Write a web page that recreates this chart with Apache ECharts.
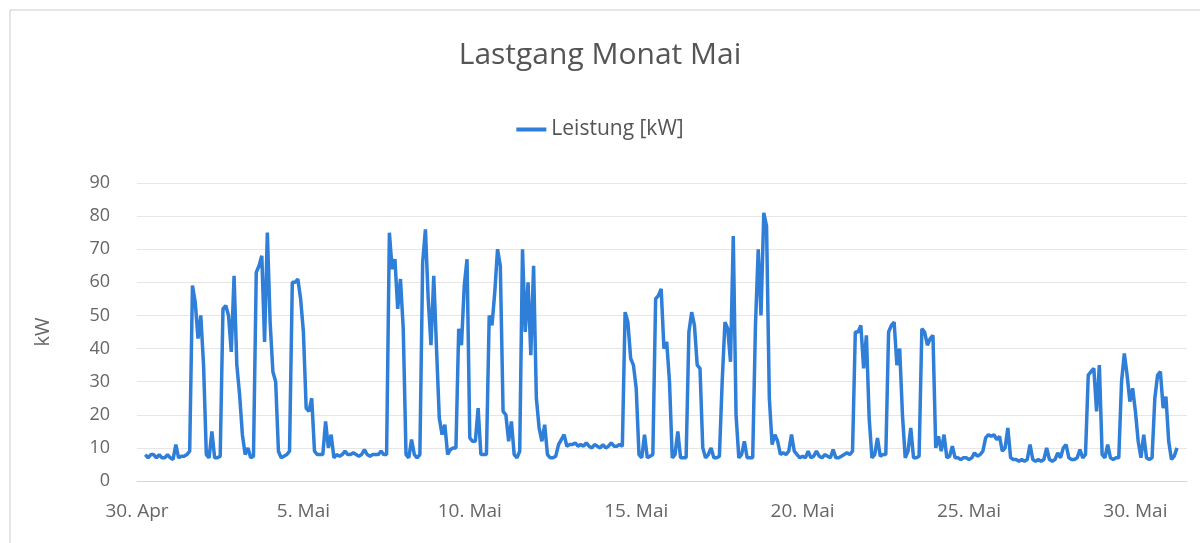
<!DOCTYPE html>
<html>
<head>
    <meta charset="utf-8" />
    <title>Lastgang Monat Mai</title>
    <style>
        html, body { margin: 0; padding: 0; background: #fff; }
        #linechart { width: 1200px; height: 543px; }
    </style>
</head>
<body>
    <div id="linechart"></div>
    <script src="https://cdn.jsdelivr.net/npm/echarts@6/dist/echarts.min.js"></script>
    <script>
        // Messwerte alle 2 Stunden, Beginn 30. Apr 06:00 (x = Tage seit 30. Apr 00:00)
        var startDay = 0.25;
        var stepDays = 2 / 24;
        var leistung = [
            8, 7, 8, 8, 7, 8, 7, 7, 8, 7, 6.5, 11,
            7, 7.5, 7.5, 8, 9, 59, 54, 43, 50, 35, 8, 7,
            15, 7, 7, 7.5, 52, 53, 50, 39, 62, 35, 26, 14,
            8, 10, 7, 7.5, 63, 65, 68, 42, 75, 48, 33, 30,
            9, 7, 7.5, 8, 9, 60, 60, 61, 55, 45, 22, 21,
            25, 9, 8, 8, 8, 18, 10, 14, 7, 8, 7.5, 8,
            9, 8, 8, 8.5, 8, 7.5, 8, 9.5, 8, 7.5, 8, 8,
            8, 9, 8, 8, 75, 64, 67, 52, 61, 46, 8, 7,
            12.5, 8, 7, 8, 66, 76, 55, 41, 62, 40, 19, 14,
            17, 8, 9.5, 10, 10, 46, 41, 59, 67, 13, 12, 12,
            22, 8, 8, 8, 50, 47, 57, 70, 65, 21, 20, 12,
            18, 8, 7, 9, 70, 45, 60, 38, 65, 25, 16, 12,
            17, 8, 7, 7, 7.5, 11, 12.5, 14, 10.5, 11, 11, 11.5,
            10.5, 11, 10.5, 11.5, 10.5, 10, 11, 10.5, 10, 11, 10, 10.5,
            11.5, 10.5, 10.5, 11, 10.5, 51, 48, 37, 35, 28, 8, 7,
            14, 7, 7.5, 8, 55, 56, 58, 40, 42, 30, 7, 8,
            15, 7, 7, 7, 45, 51, 47, 35, 34, 10, 7, 8,
            10, 7, 7, 7.5, 30, 48, 46, 36, 74, 20, 7, 8,
            12, 7, 7, 7, 47, 70, 50, 81, 77, 25, 11, 14,
            12, 8, 8.5, 8, 9, 14, 9, 8, 7, 7.5, 7, 9,
            7, 7.5, 9, 7.5, 7, 8, 7.5, 7, 9.5, 7, 7, 7.5,
            8, 8.5, 8, 9, 45, 45, 47, 34, 44, 19, 7, 8,
            13, 7.5, 8, 8, 45, 47, 48, 35, 40, 20, 7, 9,
            16, 7, 7, 7.5, 46, 45, 41, 43, 44, 10, 13.5, 9,
            14, 7, 7.5, 10.5, 7, 7, 6.5, 7, 7, 6.5, 7, 8.5,
            7.5, 8, 9, 13, 14, 13.5, 14, 12.5, 13.5, 9, 10, 16,
            7, 6.5, 6.5, 6, 6.5, 6, 6.5, 11, 6.5, 6, 6.5, 6,
            6.5, 10, 6.5, 6, 6.5, 8.5, 7, 10, 11, 7, 6.5, 6.5,
            7, 9.5, 7, 8, 32, 33, 34, 21, 35, 8, 7, 11,
            7, 6.5, 7, 7, 30, 38.5, 32, 24, 28, 21, 12, 7,
            14, 7, 6.5, 7, 25, 32, 33, 22, 25.5, 12, 6.5, 7.5,
            10
        ];
        // Achsenbeschriftung: Tag-Offset -> Text
        var xTickDays = [0, 5, 10, 15, 20, 25, 30];
        var xTickLabels = ['30. Apr', '5. Mai', '10. Mai', '15. Mai', '20. Mai', '25. Mai', '30. Mai'];

        var seriesData = leistung.map(function (v, i) {
            return [startDay + i * stepDays, v];
        });

        var font = 'Open Sans';

        var option = {
            backgroundColor: '#fff',
            textStyle: { fontFamily: font },
            graphic: [{
                type: 'rect',
                shape: { x: 10, y: 10, width: 1200, height: 600 },
                style: { fill: 'none', stroke: '#cccccc', lineWidth: 1 },
                silent: true
            }],
            title: {
                text: 'Lastgang Monat Mai',
                left: 'center',
                top: 35,
                textStyle: { color: '#555', fontSize: 30, fontWeight: 'normal', fontFamily: font }
            },
            legend: {
                data: ['Leistung [kW]'],
                left: 'center',
                top: 114,
                icon: 'rect',
                itemWidth: 30,
                itemHeight: 4,
                itemGap: 10,
                textStyle: { color: '#555', fontSize: 21, fontFamily: font }
            },
            grid: {
                left: 137,
                right: 13,
                top: 183,
                bottom: 62
            },
            xAxis: {
                type: 'value',
                min: 0,
                max: 31.55,
                interval: 5,
                axisLine: { show: true, lineStyle: { color: '#ccd6eb', width: 1 } },
                axisTick: { show: false },
                splitLine: { show: false },
                axisLabel: {
                    color: '#666',
                    fontSize: 19,
                    margin: 21,
                    showMaxLabel: false,
                    formatter: function (val) {
                        var k = xTickDays.indexOf(Math.round(val));
                        return k >= 0 && Math.abs(val - Math.round(val)) < 1e-6 ? xTickLabels[k] : '';
                    }
                }
            },
            yAxis: {
                type: 'value',
                min: 0,
                max: 90,
                interval: 10,
                name: 'kW',
                nameLocation: 'middle',
                nameGap: 84,
                nameTextStyle: { color: '#666', fontSize: 20 },
                axisLine: { show: false },
                axisTick: { show: false },
                axisLabel: { color: '#666', fontSize: 18, margin: 27 },
                splitLine: { lineStyle: { color: '#e6e6e6', width: 1 } }
            },
            series: [{
                name: 'Leistung [kW]',
                type: 'line',
                data: seriesData,
                showSymbol: false,
                symbol: 'none',
                lineStyle: { color: '#2f7ed8', width: 3.5 },
                itemStyle: { color: '#2f7ed8' }
            }]
        };

        var lineChart = echarts.init(document.getElementById('linechart'));
        lineChart.setOption(option);
    </script>
</body>
</html>
